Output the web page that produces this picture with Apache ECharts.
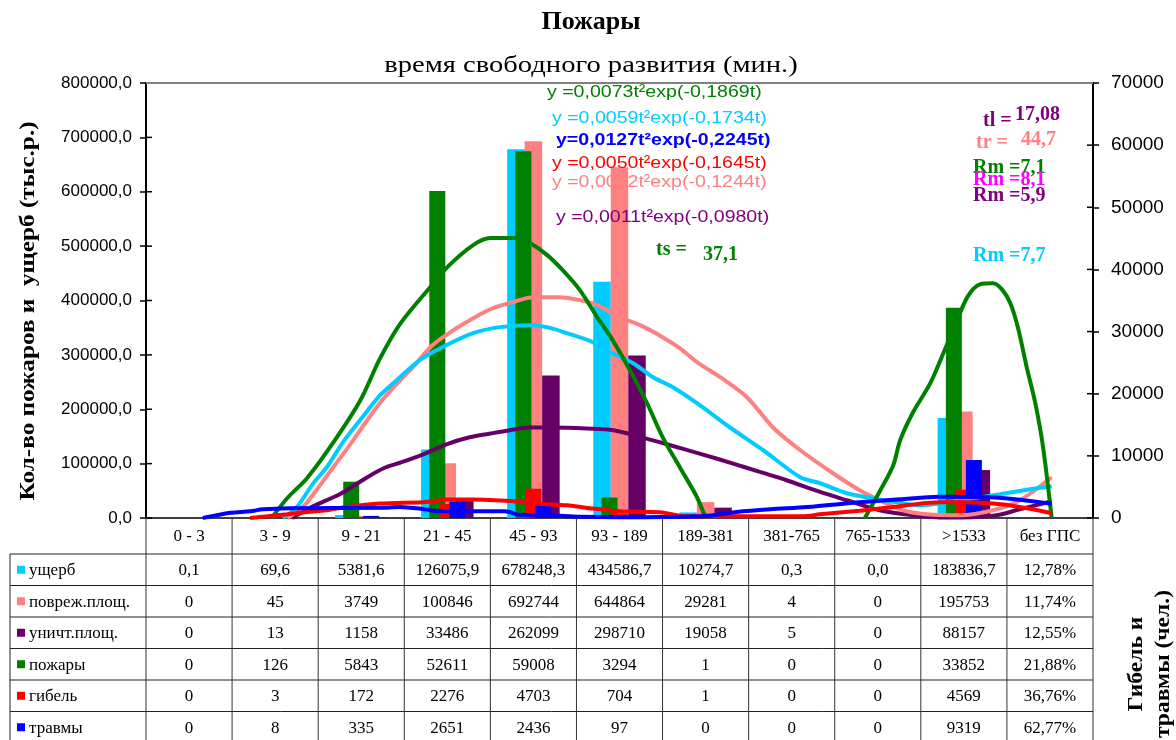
<!DOCTYPE html>
<html><head><meta charset="utf-8">
<script src="https://cdn.jsdelivr.net/npm/echarts@6/dist/echarts.min.js"></script>
<style>html,body{margin:0;padding:0;background:#fff}#c{width:1176px;height:740px}</style>
</head><body><div id="c"></div>
<script>
// ---------- data ----------
const categories = ['0 - 3','3 - 9','9 - 21','21 - 45','45 - 93','93 - 189','189-381','381-765','765-1533','>1533','без ГПС'];
const rowNames = ['ущерб','повреж.площ.','уничт.площ.','пожары','гибель','травмы'];
const damage        = [0.1, 69.6, 5381.6, 126075.9, 678248.3, 434586.7, 10274.7, 0.3, 0.0, 183836.7];
const damagedArea   = [0, 45, 3749, 100846, 692744, 644864, 29281, 4, 0, 195753];
const destroyedArea = [0, 13, 1158, 33486, 262099, 298710, 19058, 5, 0, 88157];
const fires         = [0, 126, 5843, 52611, 59008, 3294, 1, 0, 0, 33852];
const deaths        = [0, 3, 172, 2276, 4703, 704, 1, 0, 0, 4569];
const injuries      = [0, 8, 335, 2651, 2436, 97, 0, 0, 0, 9319];
const noGpsShare    = ['12,78%','11,74%','12,55%','21,88%','36,76%','62,77%'];

const leftTicks = [0, 800000, 100000];   // min, max, step
const rightTicks = [0, 70000, 10000];

// fitted curves, x in category units (category i centred at i), y in left-axis units
const fitFires = [[0.96,0],[1.14,36300],[1.37,73100],[1.67,137500],[1.99,216600],[2.22,293900],[2.45,356500],[2.80,424400],[3.00,461400],[3.30,501900],[3.50,514800],[3.81,514800],[3.96,505600],[4.16,483500],[4.34,455900],[4.54,419100],[4.74,369500],[4.92,327200],[5.12,272000],[5.32,211300],[5.50,148900],[5.70,93500],[5.90,38200],[6.00,0],
  [6.5,null],
  [7.85,0],[8.03,51000],[8.18,97000],[8.26,143000],[8.41,194500],[8.61,247900],[8.80,317800],[8.90,354600],[9.04,406200],[9.19,430100],[9.34,431900],[9.44,420900],[9.54,395100],[9.63,349100],[9.73,277300],[9.83,211100],[9.92,130100],[10.02,0]];
const fitDamage = [[1.09,0],[1.25,19700],[1.44,63300],[1.60,93300],[1.79,140000],[1.99,180500],[2.22,225800],[2.45,258900],[2.68,290200],[2.92,312300],[3.30,339900],[3.61,351000],[3.96,354600],[4.16,351000],[4.39,339900],[4.69,323400],[4.92,303100],[5.16,284700],[5.39,258900],[5.62,240500],[5.90,211100],[6.28,166900],[6.67,124600],[7.10,74900],[7.33,63900],[7.64,45500],[7.94,36300],[8.22,28900],[8.49,23400],[8.95,32600],[9.42,43600],[9.77,52800],[10.02,58300]];
const fitDamagedArea = [[1.14,0],[1.32,19700],[1.52,60000],[1.67,92000],[1.87,135000],[2.07,179800],[2.22,212000],[2.42,247900],[2.60,277300],[2.83,318000],[3.07,345400],[3.30,367500],[3.53,385900],[3.76,397000],[4.00,406200],[4.31,406200],[4.54,400700],[4.74,391500],[5.00,369400],[5.24,354600],[5.50,332600],[5.70,312300],[5.90,286600],[6.17,258900],[6.48,222100],[6.78,166900],[7.10,124600],[7.48,82300],[7.79,51000],[8.02,32600],[8.29,14200],[8.57,6800],[8.95,5000],[9.34,14200],[9.65,32600],[10.02,74900]];
const fitDestroyedArea = [[1.20,0],[1.44,21500],[1.75,43600],[2.06,74000],[2.26,91500],[2.45,101600],[2.72,117200],[2.99,135600],[3.26,148500],[3.50,155300],[3.73,161400],[3.96,166400],[4.23,166400],[4.62,164500],[4.93,161400],[5.24,149100],[5.59,133800],[5.93,118500],[6.32,100100],[6.63,84700],[6.94,69400],[7.33,47900],[7.64,32600],[8.02,14200],[8.41,5000],[8.80,700],[9.34,4100],[9.65,16000],[10.02,30700]];
const fitDeaths = [[0.71,0],[0.91,3100],[1.14,6800],[1.37,11000],[1.60,14200],[1.83,20200],[2.22,26500],[2.76,29500],[3.03,33900],[3.30,33900],[3.76,30700],[4.08,26100],[4.39,23400],[4.69,17300],[5.00,12300],[5.47,10500],[5.78,3100],[7.13,3100],[7.33,6800],[7.79,13300],[8.18,20200],[8.57,27600],[8.95,29500],[9.34,26500],[9.65,20200],[10.02,8700]];
const fitInjuries = [[0.16,0],[0.48,9600],[0.71,12300],[0.86,16000],[1.17,17900],[2.22,18800],[2.45,20200],[2.74,16000],[2.92,12300],[3.67,12300],[3.84,5900],[4.31,4100],[4.54,2200],[5.00,1300],[5.93,3100],[6.17,6800],[6.36,11000],[6.75,16000],[7.18,20200],[7.79,28900],[8.26,34400],[8.72,39000],[9.30,38100],[9.65,33500],[10.02,26100]];

const formulas = ['y =0,0073t²exp(-0,1869t)','y =0,0059t²exp(-0,1734t)','y=0,0127t²exp(-0,2245t)','y =0,0050t²exp(-0,1645t)','y =0,0052t²exp(-0,1244t)','y =0,0011t²exp(-0,0980t)'];
const notes = ['ts =','37,1','tl =','17,08','tr =','44,7','Rm =7,1','Rm =8,1','Rm =5,9','Rm =7,7'];
const titleText = 'Пожары';
const subtitleText = 'время свободного развития (мин.)';
const leftAxisName = 'Кол-во пожаров и  ущерб (тыс.р.)';
const rightAxisName = 'Гибель и\nтравмы (чел.)';

// ---------- styles / layout ----------
const SERIF = '"Liberation Serif","Times New Roman",serif';
const SANS = '"Liberation Sans",Arial,sans-serif';
const C = {cyan:'#00CCFF', salmon:'#FF8080', purple:'#660066', green:'#008000', red:'#FF0000', blue:'#0000FF', mag:'#FF00FF', ptext:'#800080'};
const G = {left:146, top:83, width:947, height:435};
const colW = G.width / categories.length;
const tableTop = 554, rowH = 31.5, tableLeft = 10, tableRight = G.left + G.width;

const chart = echarts.init(document.getElementById('c'), null, {renderer:'canvas'});

function txt(x, y, text, font, fill, align, extra) {
  return Object.assign({type:'text', x:x, y:y, z:100, silent:true,
    style:{text:text, font:font, fill:fill, textAlign:align||'left', textVerticalAlign:'middle', align:align||'left', verticalAlign:'middle'}}, extra||{});
}
function line(x1,y1,x2,y2,color,w){
  return {type:'line', z:50, silent:true, shape:{x1:x1,y1:y1,x2:x2,y2:y2}, style:{stroke:color, lineWidth:w||1}};
}

const fmtLeft = v => v.toFixed(1).replace('.', ',');
const tickLine = {color:'#000', width:1.5};

function barSeries(name, data, color, secondary) {
  return {name:name, type:'bar', xAxisIndex: secondary?1:0, yAxisIndex: secondary?1:0,
    data: data.concat([null]), itemStyle:{color:color},
    barWidth: secondary?16:17.5, barGap: secondary?'-37.5%':'0%', animation:false};
}
function lineSeries(name, data, color) {
  return {name:name, type:'line', xAxisIndex:2, yAxisIndex:0, data:data, showSymbol:false, symbol:'none',
    smooth:0.3, connectNulls:false, lineStyle:{width:4, color:color}, itemStyle:{color:color}, animation:false, z:3};
}

chart.setOption({
  animation:false,
  backgroundColor:'#fff',
  grid:{left:G.left, top:G.top, width:G.width, height:G.height, containLabel:false},
  xAxis:[
    {type:'category', position:'bottom', data:categories, boundaryGap:true,
     axisLine:{onZero:false, lineStyle:{color:'#000', width:1.5}}, axisTick:{show:false},
     axisLabel:{interval:0, color:'#000', fontFamily:SERIF, fontSize:17, margin:10}},
    {type:'category', position:'bottom', data:categories, show:false, axisLine:{onZero:false}},
    {type:'value', position:'bottom', min:-0.5, max:categories.length-0.5, show:false, axisLine:{onZero:false}}
  ],
  yAxis:[
    {type:'value', position:'left', offset:0, min:leftTicks[0], max:leftTicks[1], interval:leftTicks[2],
     axisLine:{show:true, onZero:false, lineStyle:{color:'#000', width:2}}, axisTick:{show:true, length:6, lineStyle:tickLine},
     axisLabel:{formatter:fmtLeft, color:'#000', fontFamily:'"Liberation Sans Narrow","Arial Narrow",'+SANS, fontSize:17, margin:14},
     splitLine:{show:false}},
    {type:'value', position:'right', offset:0, min:rightTicks[0], max:rightTicks[1], interval:rightTicks[2],
     axisLine:{show:true, onZero:false, lineStyle:{color:'#000', width:2}}, axisTick:{show:true, length:6, lineStyle:tickLine},
     axisLabel:{formatter: v => String(v), color:'#000', fontFamily:SANS, fontSize:19, margin:18},
     splitLine:{show:false}}
  ],
  series:[
    barSeries('ущерб', damage, C.cyan, false),
    barSeries('повреж.площ.', damagedArea, C.salmon, false),
    barSeries('уничт.площ.', destroyedArea, C.purple, false),
    barSeries('пожары', fires, C.green, true),
    barSeries('гибель', deaths, C.red, true),
    barSeries('травмы', injuries, C.blue, true),
    lineSeries('уничт.площ. (аппрокс.)', fitDestroyedArea, C.purple),
    lineSeries('повреж.площ. (аппрокс.)', fitDamagedArea, C.salmon),
    lineSeries('ущерб (аппрокс.)', fitDamage, C.cyan),
    lineSeries('пожары (аппрокс.)', fitFires, C.green),
    lineSeries('гибель (аппрокс.)', fitDeaths, C.red),
    lineSeries('травмы (аппрокс.)', fitInjuries, C.blue)
  ]
});

// ---------- decorations: ticks crossing the axes, table, texts ----------
const graphics = [];
for (let v = leftTicks[0]; v <= leftTicks[1]; v += leftTicks[2]) {
  const p = chart.convertToPixel({yAxisIndex:0}, v);
  graphics.push(line(G.left, p, G.left+6, p, '#000', 1.5));
}
for (let v = rightTicks[0]; v <= rightTicks[1]; v += rightTicks[2]) {
  const p = chart.convertToPixel({yAxisIndex:1}, v);
  graphics.push(line(G.left+G.width-6, p, G.left+G.width, p, '#000', 1.5));
}
graphics.push(line(G.left, G.top, G.left+G.width, G.top, '#808080', 2));
for (let k = 0; k <= rowNames.length; k++) {
  const y = tableTop + k*rowH;
  graphics.push(line(tableLeft, y, tableRight, y, '#222', 1));
}
graphics.push(line(tableLeft, tableTop, tableLeft, 740, '#222', 1));
for (let i = 0; i <= categories.length; i++) {
  const x = G.left + i*colW;
  graphics.push(line(x, G.top+G.height, x, 740, '#333', 1));
}
const tableRows = [
  damage.map(v => v.toFixed(1).replace('.', ',')),
  damagedArea.map(String), destroyedArea.map(String), fires.map(String), deaths.map(String), injuries.map(String)
];
const rowColors = [C.cyan, C.salmon, C.purple, C.green, C.red, C.blue];
tableRows.forEach((vals, r) => {
  const cy = tableTop + (r+0.5)*rowH;
  graphics.push({type:'rect', z:60, silent:true, shape:{x:17, y:cy-4, width:8, height:8}, style:{fill:rowColors[r]}});
  graphics.push(txt(29, cy+1, rowNames[r], '17px '+SERIF, '#000', 'left'));
  vals.concat([noGpsShare[r]]).forEach((v, i) => {
    graphics.push(txt(G.left + (i+0.5)*colW, cy+1, v, '17px '+SERIF, '#000', 'center'));
  });
});
graphics.push(txt(591, 22, titleText, 'bold 26px '+SERIF, '#000', 'center'));
graphics.push(txt(591, 66, subtitleText, '24px '+SERIF, '#000', 'center', {scaleX:1.19}));
graphics.push(txt(29, 311, leftAxisName, 'bold 21px '+SERIF, '#000', 'center', {rotation:Math.PI/2, scaleX:1.2}));
const rn = txt(1150, 664, rightAxisName, 'bold 20px '+SERIF, '#000', 'center', {rotation:Math.PI/2, scaleX:1.18});
rn.style.lineHeight = 27;
graphics.push(rn);
const fPos = [[547,92,C.green,''],[552,118,C.cyan,''],[556,140,C.blue,'bold '],[552,163,C.red,''],[552,182,C.salmon,''],[556,217,C.ptext,'']];
formulas.forEach((f, i) => {
  const p = fPos[i];
  graphics.push(txt(p[0], p[1], f, p[3]+'17px '+SANS, p[2], 'left', {scaleX:1.15}));
});
const nPos = [[656,250,C.green],[703,255,C.green],[983,121,C.ptext],[1015,115,C.ptext],[976,143,C.salmon],[1021,140,C.salmon],[973,168,C.green],[973,180,C.mag],[973,196,C.ptext],[973,256,C.cyan]];
notes.forEach((n, i) => {
  const p = nPos[i];
  graphics.push(txt(p[0], p[1], n, 'bold 20px '+SERIF, p[2], 'left'));
});
chart.setOption({graphic:{elements:graphics}});
</script></body></html>
